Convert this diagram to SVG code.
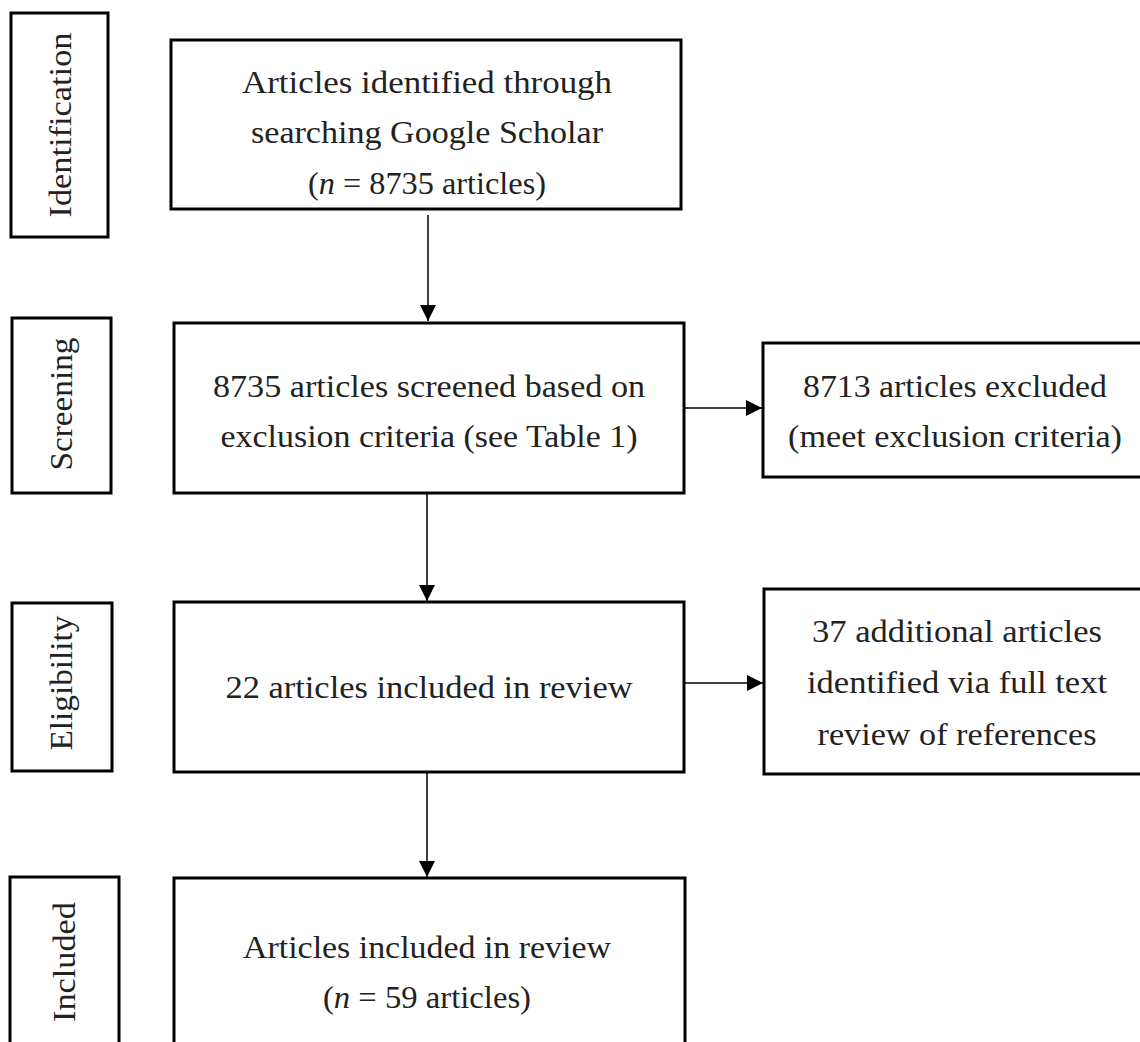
<svg xmlns="http://www.w3.org/2000/svg" width="1140" height="1042" viewBox="0 0 1140 1042">
<style>
.box{fill:#fff;stroke:#000;stroke-width:3}
.t{font-family:"Liberation Serif","Times New Roman",serif;font-size:31px;fill:#222;text-anchor:middle}
.c{stroke:#000;stroke-width:1.5;fill:none}
.it{font-style:italic}
</style>
<defs>
<marker id="ah" markerUnits="userSpaceOnUse" markerWidth="16" markerHeight="16" refX="16" refY="8" orient="auto">
<path d="M0,0 L16,8 L0,16 z" fill="#000"/>
</marker>
</defs>
<rect width="1140" height="1042" fill="#fff"/>
<g id="label-identification">
<rect class="box" x="11" y="13" width="97" height="224"/>
<text class="t" transform="translate(71,125) rotate(-90)" textLength="185" lengthAdjust="spacingAndGlyphs">Identification</text>
</g>
<g id="label-screening">
<rect class="box" x="12" y="318" width="99" height="175"/>
<text class="t" transform="translate(72,404) rotate(-90)" textLength="133" lengthAdjust="spacingAndGlyphs">Screening</text>
</g>
<g id="label-eligibility">
<rect class="box" x="12" y="603" width="100" height="168"/>
<text class="t" transform="translate(72,683) rotate(-90)" textLength="135" lengthAdjust="spacingAndGlyphs">Eligibility</text>
</g>
<g id="label-included">
<rect class="box" x="10" y="877" width="109" height="200"/>
<text class="t" transform="translate(75,962) rotate(-90)" textLength="120" lengthAdjust="spacingAndGlyphs">Included</text>
</g>
<g id="node-identified">
<rect class="box" x="171" y="40" width="510" height="169"/>
<text class="t" x="427" y="93" textLength="370" lengthAdjust="spacingAndGlyphs">Articles identified through</text>
<text class="t" x="427" y="143" textLength="352" lengthAdjust="spacingAndGlyphs">searching Google Scholar</text>
<text class="t" x="427" y="194" textLength="238" lengthAdjust="spacingAndGlyphs">(<tspan class="it">n</tspan> = 8735 articles)</text>
</g>
<g id="node-screened">
<rect class="box" x="174" y="323" width="510" height="170"/>
<text class="t" x="429" y="397" textLength="432" lengthAdjust="spacingAndGlyphs">8735 articles screened based on</text>
<text class="t" x="429" y="447" textLength="417" lengthAdjust="spacingAndGlyphs">exclusion criteria (see Table 1)</text>
</g>
<g id="node-excluded">
<rect class="box" x="763" y="343" width="385" height="134"/>
<text class="t" x="955" y="397" textLength="304" lengthAdjust="spacingAndGlyphs">8713 articles excluded</text>
<text class="t" x="955" y="447" textLength="334" lengthAdjust="spacingAndGlyphs">(meet exclusion criteria)</text>
</g>
<g id="node-eligible">
<rect class="box" x="174" y="602" width="510" height="170"/>
<text class="t" x="429" y="698" textLength="407" lengthAdjust="spacingAndGlyphs">22 articles included in review</text>
</g>
<g id="node-additional">
<rect class="box" x="764" y="589" width="384" height="185"/>
<text class="t" x="957" y="642" textLength="290" lengthAdjust="spacingAndGlyphs">37 additional articles</text>
<text class="t" x="957" y="693" textLength="300" lengthAdjust="spacingAndGlyphs">identified via full text</text>
<text class="t" x="957" y="745" textLength="279" lengthAdjust="spacingAndGlyphs">review of references</text>
</g>
<g id="node-included">
<rect class="box" x="174" y="878" width="511" height="200"/>
<text class="t" x="427" y="958" textLength="368" lengthAdjust="spacingAndGlyphs">Articles included in review</text>
<text class="t" x="427" y="1008" textLength="208" lengthAdjust="spacingAndGlyphs">(<tspan class="it">n</tspan> = 59 articles)</text>
</g>
<g id="connectors">
<line class="c" x1="428" y1="215" x2="428" y2="321" marker-end="url(#ah)"/>
<line class="c" x1="427" y1="493" x2="427" y2="601" marker-end="url(#ah)"/>
<line class="c" x1="427" y1="772" x2="427" y2="877" marker-end="url(#ah)"/>
<line class="c" x1="685" y1="408" x2="762" y2="408" marker-end="url(#ah)"/>
<line class="c" x1="685" y1="683" x2="763" y2="683" marker-end="url(#ah)"/>
</g>
</svg>
